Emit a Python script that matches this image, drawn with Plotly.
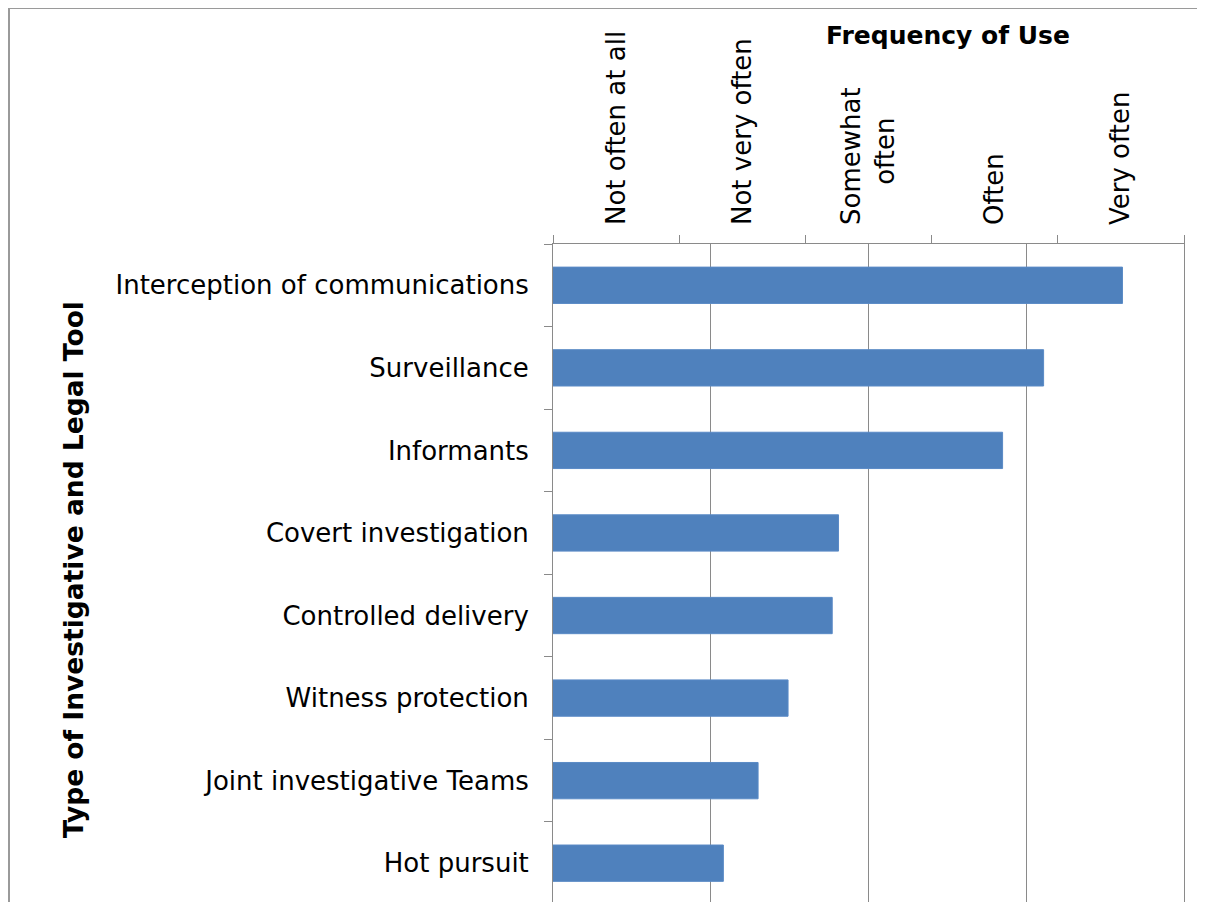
import plotly.graph_objects as go

categories = [
    "Interception of communications",
    "Surveillance",
    "Informants",
    "Covert investigation",
    "Controlled delivery",
    "Witness protection",
    "Joint investigative Teams",
    "Hot pursuit",
]
values = [4.61, 4.11, 3.85, 2.81, 2.77, 2.49, 2.30, 2.08]
freq_labels = ["Not often at all", "Not very often",
               "Somewhat<br><span style='color:rgba(0,0,0,0)'>nni</span>often",
               "Often", "Very often"]
freq_positions = [0.5, 1.5, 2.5, 3.5, 4.5]
freq_bounds = [0, 1, 2, 3, 4, 5]

FONT = "Verdana, DejaVu Sans, sans-serif"
GRAY = "#8a8a8a"

OFF = 8  # page body margin
W, H = 1205 - OFF, 902 - OFF
ML, MR, MT, MB = 553 - OFF, 21, 244 - OFF, 0
PW, PH = W - ML - MR, H - MT - MB

def px_x(x):
    return (x - OFF - ML) / PW

def px_y(y):
    return (H - MB - (y - OFF)) / PH

fig = go.Figure()
fig.add_trace(go.Bar(
    y=categories, x=values, orientation="h",
    marker=dict(color="#4F81BD", line=dict(color="#5A8AC6", width=1)),
    width=0.44, hoverinfo="x+y", showlegend=False,
))
# invisible helper trace to activate the top label axis
fig.add_trace(go.Scatter(
    x=[freq_positions[0]], y=[categories[0]], xaxis="x2", mode="markers",
    marker=dict(opacity=0), hoverinfo="skip", showlegend=False,
))

fig.update_layout(
    width=W, height=H, autosize=False,
    margin=dict(l=ML, r=MR, t=MT, b=MB, pad=0),
    paper_bgcolor="white", plot_bgcolor="white",
    font=dict(family=FONT, size=26, color="black"),
    xaxis=dict(
        range=[1, 5], dtick=1, tick0=1, side="top",
        showgrid=True, gridcolor=GRAY, gridwidth=1,
        showticklabels=False, ticks="", zeroline=False,
        showline=True, linecolor=GRAY, linewidth=1, mirror=False,
        fixedrange=True,
    ),
    xaxis2=dict(
        overlaying="x", side="top", range=[0, 5],
        tickmode="array", tickvals=freq_positions, ticktext=freq_labels,
        tickangle=-90, ticks="", showgrid=False, zeroline=False,
        showline=False, ticklabelstandoff=18,
        minor=dict(ticks="outside", tickmode="array", tickvals=freq_bounds,
                   ticklen=8, tickcolor=GRAY, tickwidth=1, showgrid=False),
        tickfont=dict(family=FONT, size=26, color="black"),
        fixedrange=True,
    ),
    yaxis=dict(
        type="category", categoryorder="array", categoryarray=categories,
        range=[7.47, -0.5],
        tickson="boundaries", ticks="outside", ticklen=8, tickcolor=GRAY,
        showline=True, linecolor=GRAY, linewidth=1, mirror=True,
        showgrid=False, zeroline=False, ticklabelstandoff=18,
        tickfont=dict(family=FONT, size=26, color="black"),
        fixedrange=True,
    ),
    annotations=[
        dict(text="<b>Frequency of Use</b>", xref="paper", yref="paper",
             x=px_x(948), y=px_y(36), xanchor="center", yanchor="middle",
             showarrow=False, font=dict(family=FONT, size=25, color="black")),
        dict(text="<b>Type of Investigative and Legal Tool</b>", xref="paper", yref="paper",
             x=px_x(73), y=px_y(570), xanchor="center", yanchor="middle",
             textangle=-90, showarrow=False,
             font=dict(family=FONT, size=26.5, color="black")),
    ],
    shapes=[
        dict(type="rect", xref="paper", yref="paper",
             x0=px_x(9), x1=px_x(1230), y0=px_y(930), y1=px_y(8),
             line=dict(color="#9a9a9a", width=2), fillcolor="rgba(0,0,0,0)",
             layer="above"),
    ],
)

fig.write_html("out.html")
